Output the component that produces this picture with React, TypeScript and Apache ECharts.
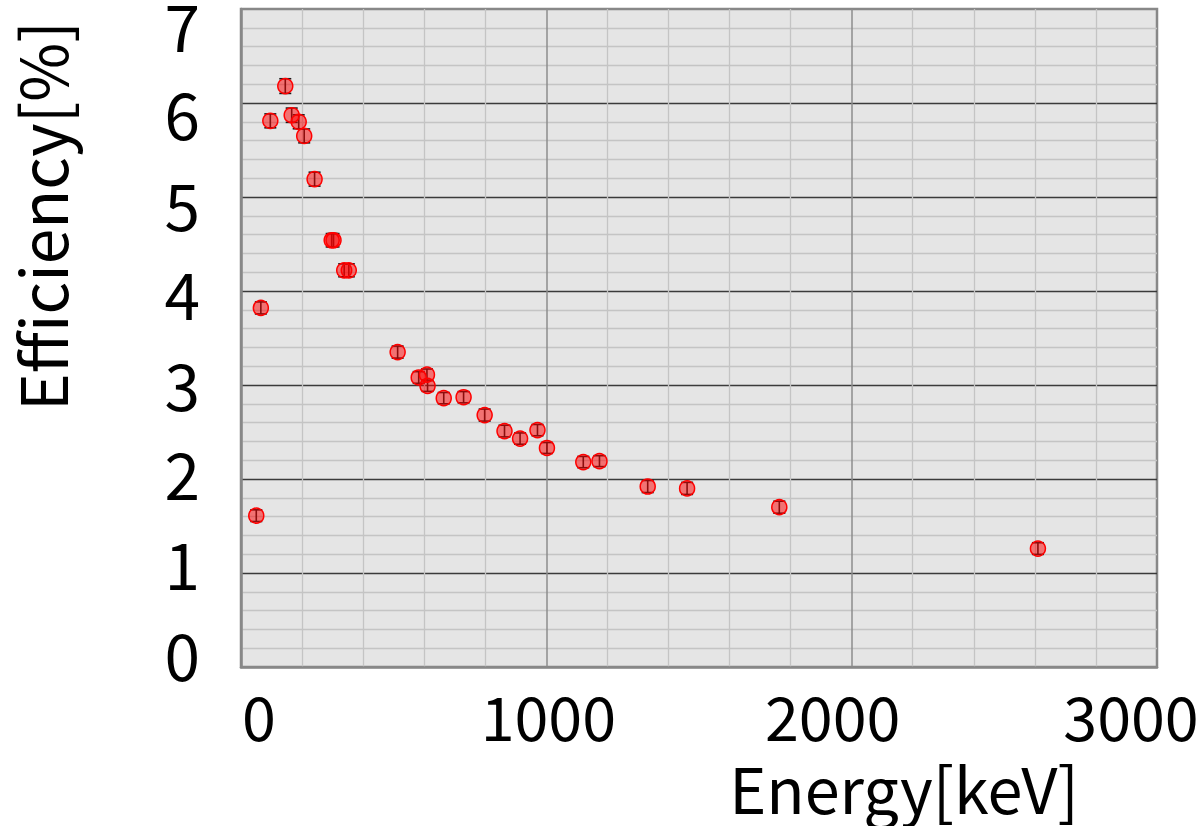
import React, { useEffect, useRef } from "react";
import * as echarts from "echarts";

const energies = [50, 65, 96, 145, 166, 189, 207, 241, 297, 303, 338, 353, 513, 582, 609, 611, 664, 729, 798, 863, 914, 971, 1002, 1121, 1174, 1332, 1461, 1763, 2610];
const efficiencies = [1.61, 3.82, 5.81, 6.18, 5.87, 5.80, 5.65, 5.19, 4.54, 4.54, 4.22, 4.22, 3.35, 3.08, 3.11, 2.99, 2.86, 2.87, 2.68, 2.51, 2.43, 2.52, 2.33, 2.18, 2.19, 1.92, 1.90, 1.70, 1.26];
const errors = [0.062, 0.064, 0.074, 0.078, 0.076, 0.074, 0.074, 0.074, 0.071, 0.071, 0.069, 0.069, 0.064, 0.062, 0.06, 0.058, 0.06, 0.06, 0.064, 0.062, 0.06, 0.06, 0.058, 0.06, 0.058, 0.064, 0.064, 0.064, 0.062];
const xTicks = [0, 1000, 2000, 3000];
const yTicks = [0, 1, 2, 3, 4, 5, 6, 7];
const xTitle = "Energy[keV]";
const yTitle = "Efficiency[%]";

const FONT = "'Noto Sans CJK JP', 'Noto Sans', sans-serif";

export default function App() {
  const ref = useRef<HTMLDivElement>(null);
  useEffect(() => {
    if (!ref.current) return;
    const chart = echarts.init(ref.current, undefined, { renderer: "svg" });
    const pts = energies.map((e, i) => [e, efficiencies[i]]);
    const errPts = energies.map((e, i) => [e, efficiencies[i], errors[i]]);

    const xShift: Record<number, number[]> = { 0: [0, 0, 0, 36], 1000: [0, 0, 0, 4], 2000: [0, 38, 0, 0], 3000: [0, 52, 0, 0] };
    const yShift: Record<number, number[]> = {
      7: [29, 0, 0, 0], 6: [18, 0, 0, 0], 5: [12, 0, 0, 0], 4: [2, 0, 0, 0],
      3: [0, 0, 4, 0], 2: [0, 0, 14, 0], 1: [0, 0, 22, 0], 0: [0, 0, 28, 0],
    };
    const xRich: any = {};
    xTicks.forEach((t) => { xRich["x" + t] = { fontSize: 61, fontFamily: FONT, color: "#000", padding: xShift[t] }; });
    const yRich: any = {};
    yTicks.forEach((t) => { yRich["y" + t] = { fontSize: 64, fontFamily: FONT, color: "#000", padding: yShift[t] }; });

    chart.setOption({
      animation: false,
      backgroundColor: "#ffffff",
      grid: {
        left: 241, top: 9, width: 916, height: 658,
        containLabel: false, outerBoundsMode: "none",
        show: true, backgroundColor: "#e5e5e5", borderColor: "#888888", borderWidth: 2.5,
      },
      xAxis: {
        type: "value", min: 0, max: 3000, interval: 1000,
        axisLine: { show: true, lineStyle: { color: "#888888", width: 2.5 } },
        axisTick: { show: false },
        minorTick: { show: false, splitNumber: 5 },
        splitLine: { show: true, showMinLine: false, showMaxLine: false, lineStyle: { color: "#8c8c8c", width: 1.5 } },
        minorSplitLine: { show: true, lineStyle: { color: "#c4c4c4", width: 1.3 } },
        axisLabel: {
          margin: 17, fontSize: 61, fontFamily: FONT, color: "#000",
          showMinLabel: true, showMaxLabel: true, hideOverlap: false,
          formatter: (v: number) => `{x${v}|${v}}`, rich: xRich,
        },
      },
      yAxis: {
        type: "value", min: 0, max: 7, interval: 1,
        axisLine: { show: true, lineStyle: { color: "#888888", width: 2.5 } },
        axisTick: { show: false },
        minorTick: { show: false, splitNumber: 5 },
        splitLine: { show: true, showMinLine: false, showMaxLine: false, lineStyle: { color: "#3a3a3a", width: 1.3 } },
        minorSplitLine: { show: true, lineStyle: { color: "#c4c4c4", width: 1.3 } },
        axisLabel: {
          margin: 41, fontSize: 64, fontFamily: FONT, color: "#000",
          showMinLabel: true, showMaxLabel: true, hideOverlap: false,
          formatter: (v: number) => `{y${v}|${v}}`, rich: yRich,
        },
      },
      graphic: [
        {
          type: "text", x: 40, y: 216, rotation: Math.PI / 2,
          style: { text: yTitle, fontSize: 64, fontFamily: FONT, fill: "#000", align: "center", verticalAlign: "middle" },
        },
        {
          type: "text", x: 904, y: 786,
          style: { text: xTitle, fontSize: 63, fontFamily: FONT, fill: "#000", align: "center", verticalAlign: "middle" },
        },
      ],
      series: [
        {
          type: "custom",
          data: errPts,
          encode: { x: 0, y: 1 },
          z: 2,
          renderItem: (params: any, api: any) => {
            const x = api.value(0), y = api.value(1), e = api.value(2);
            const top = api.coord([x, y + e]);
            const bot = api.coord([x, y - e]);
            const w = 6;
            const st = { stroke: "#1a1a1a", lineWidth: 1.6 };
            return {
              type: "group",
              children: [
                { type: "line", shape: { x1: top[0], y1: top[1], x2: bot[0], y2: bot[1] }, style: st },
                { type: "line", shape: { x1: top[0] - w, y1: top[1], x2: top[0] + w, y2: top[1] }, style: st },
                { type: "line", shape: { x1: bot[0] - w, y1: bot[1], x2: bot[0] + w, y2: bot[1] }, style: st },
              ],
            };
          },
        },
        {
          type: "scatter",
          data: pts,
          z: 3,
          symbol: "circle",
          symbolSize: 15,
          itemStyle: { color: "rgba(255,0,0,0.5)", borderColor: "#ff0000", borderWidth: 1.5, opacity: 1 },
        },
      ],
    });
    return () => chart.dispose();
  }, []);
  return <div ref={ref} style={{ position: "fixed", left: 0, top: 0, width: 1203, height: 826 }} />;
}
